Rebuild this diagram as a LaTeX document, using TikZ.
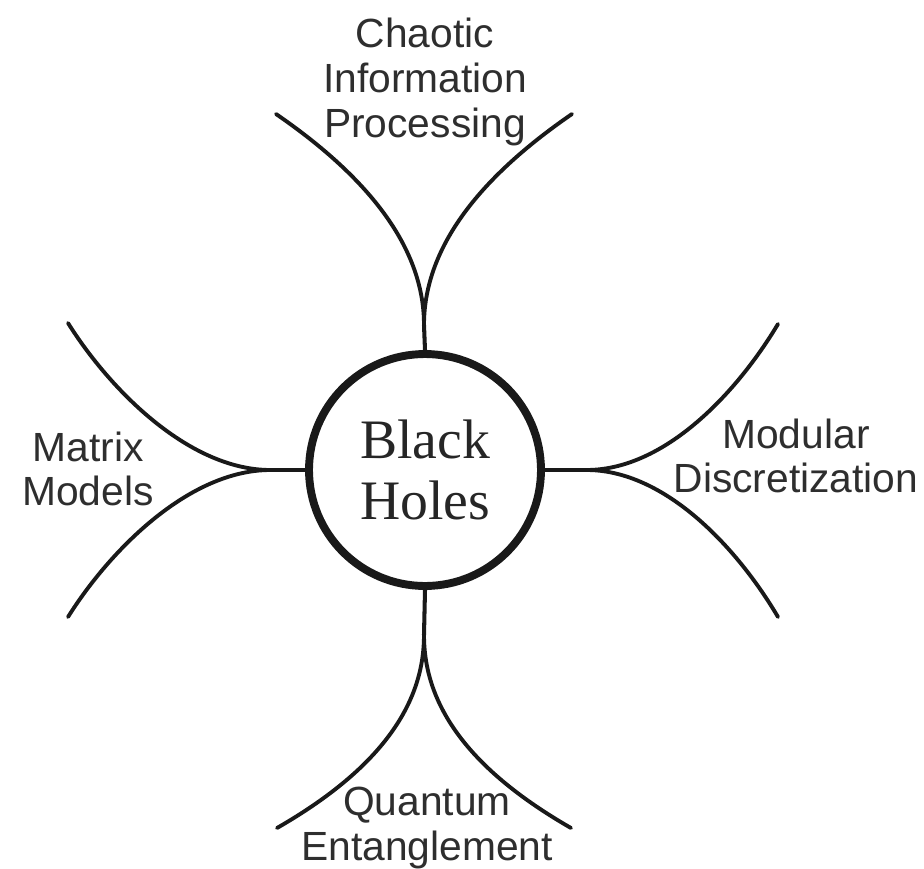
\documentclass[tikz,border=0pt]{standalone}
\usepackage{fontspec}
\setmainfont{Liberation Serif}
\setsansfont{Liberation Sans}
\usepackage{tikz}

\begin{document}
\begin{tikzpicture}[
        x=0.02cm, y=-0.02cm,
        hub/.style={circle, draw=black!90, line width=4.5pt, minimum size=4.64cm, inner sep=0pt, align=center, text=black!85, font=\fontsize{31.7pt}{35.1pt}\selectfont},
        topic/.style={align=center, inner sep=0pt, text=black!82, font=\sffamily\fontsize{23.2pt}{25.5pt}\selectfont},
        stem/.style={draw=black!90, line width=2.3pt},
        branch/.style={draw=black!90, line width=2.2pt, line cap=round}
    ]
        \useasboundingbox (0,0) rectangle (924,869);

        % Hub
        \node[hub] (bh) at (425,470) {Black\\Holes};

        % Labels
        \node[topic] (cip) at (425,82) {Chaotic\\Information\\Processing};
        \node[topic] (mm) at (88,469) {Matrix\\Models};
        \node[topic] (md) at (796,456) {Modular\\Discretization};
        \node[topic] (qe) at (427,828) {Quantum\\Entanglement};

        % Split points and free ends
        \coordinate (ts) at (424,325);
        \coordinate (bs) at (424,635);
        \coordinate (ls) at (272,470);
        \coordinate (rs) at (585,470);
        \coordinate (tl) at (276,114);
        \coordinate (tr) at (572,114);
        \coordinate (bl) at (277,828);
        \coordinate (br) at (571,828);
        \coordinate (lu) at (68,323);
        \coordinate (ld) at (68,617);
        \coordinate (ru) at (778,324);
        \coordinate (rd) at (778,617);

        % Stems
        \draw[stem] (bh.north) -- (ts);
        \draw[stem] (bh.south) -- (bs);
        \draw[stem] (bh.west) -- (ls);
        \draw[stem] (bh.east) -- (rs);

        % Branches
        \draw[branch] (ts) .. controls (424,250) and (372,180) .. (tl);
        \draw[branch] (ts) .. controls (424,250) and (476,180) .. (tr);
        \draw[branch] (bs) .. controls (424,695) and (392,762) .. (bl);
        \draw[branch] (bs) .. controls (424,695) and (456,762) .. (br);
        \draw[branch] (ls) .. controls (190,471) and (110,390) .. (lu);
        \draw[branch] (ls) .. controls (190,469) and (110,550) .. (ld);
        \draw[branch] (rs) .. controls (665,471) and (738,391) .. (ru);
        \draw[branch] (rs) .. controls (665,469) and (738,549) .. (rd);
    \end{tikzpicture}
\end{document}
